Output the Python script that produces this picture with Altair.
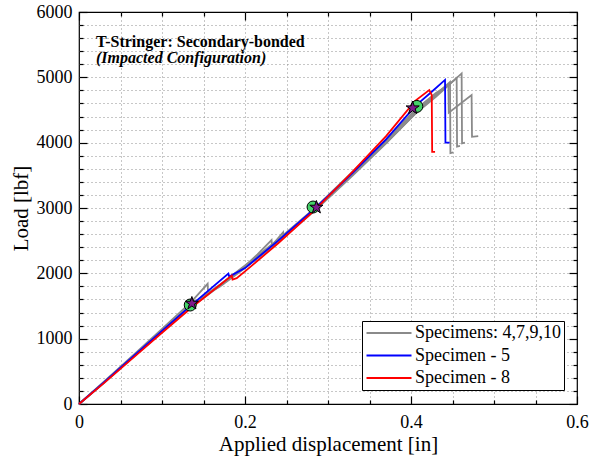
import altair as alt
import pandas as pd

FONT = "Liberation Serif"

GROUPS = ["Specimens: 4,7,9,10", "Specimen - 5", "Specimen - 8"]
COLORS = ["#8a8a8a", "#0000ff", "#ff0000"]

# --- Specimen curves (applied displacement [in], load [lbf]) ---
s4_x = [0, 0.03, 0.07, 0.10, 0.135, 0.17, 0.20, 0.24, 0.285, 0.33, 0.37, 0.405, 0.43, 0.447, 0.4475, 0.451]
s4_y = [0, 330, 780, 1110, 1500, 1820, 2100, 2500, 2990, 3540, 4030, 4470, 4740, 4930, 3840, 3850]

s7_x = [0, 0.03, 0.07, 0.10, 0.135, 0.155, 0.1555, 0.17, 0.20, 0.24, 0.285, 0.33, 0.37, 0.405, 0.43, 0.455, 0.4555, 0.459]
s7_y = [0, 340, 800, 1150, 1560, 1840, 1700, 1800, 2080, 2480, 2970, 3500, 3990, 4440, 4720, 4990, 3940, 3950]

s9_x = [0, 0.03, 0.07, 0.10, 0.135, 0.17, 0.20, 0.215, 0.232, 0.2325, 0.246, 0.2465, 0.285, 0.33, 0.37, 0.405, 0.43, 0.461, 0.4615, 0.465]
s9_y = [0, 320, 770, 1100, 1480, 1810, 2110, 2290, 2510, 2430, 2630, 2550, 2990, 3520, 4000, 4440, 4700, 5060, 3990, 4000]

s10_x = [0, 0.03, 0.07, 0.10, 0.135, 0.17, 0.20, 0.24, 0.285, 0.33, 0.37, 0.405, 0.43, 0.445, 0.4455, 0.473, 0.4735, 0.481]
s10_y = [0, 330, 790, 1130, 1520, 1830, 2120, 2520, 3010, 3560, 4050, 4500, 4760, 4880, 4460, 4730, 4090, 4100]

s5_x = [0, 0.03, 0.07, 0.10, 0.135, 0.18, 0.181, 0.20, 0.24, 0.285, 0.33, 0.37, 0.405, 0.425, 0.441, 0.4415, 0.4465]
s5_y = [0, 330, 780, 1120, 1510, 1995, 1950, 2080, 2500, 3000, 3540, 4050, 4560, 4780, 4960, 4000, 4000]

s8_x = [0, 0.03, 0.07, 0.10, 0.135, 0.184, 0.185, 0.19, 0.20, 0.24, 0.285, 0.33, 0.37, 0.405, 0.422, 0.425, 0.4255, 0.429]
s8_y = [0, 320, 760, 1090, 1470, 1965, 1905, 1925, 2030, 2460, 2980, 3560, 4100, 4640, 4806, 4730, 3860, 3860]

# --- Markers ---
circ_x = [0.134, 0.282, 0.407]
circ_y = [1515, 3015, 4555]
star_x = [0.136, 0.286, 0.402]
star_y = [1540, 3010, 4530]

# --- Axis ticks ---
X_TICKS = [0, 0.05, 0.1, 0.15, 0.2, 0.25, 0.3, 0.35, 0.4, 0.45, 0.5, 0.55, 0.6]
Y_TICKS = [0, 200, 400, 600, 800, 1000, 1200, 1400, 1600, 1800, 2000, 2200, 2400, 2600, 2800,
           3000, 3200, 3400, 3600, 3800, 4000, 4200, 4400, 4600, 4800, 5000, 5200, 5400, 5600, 5800, 6000]

TITLE1 = "T-Stringer: Secondary-bonded"
TITLE2 = "(Impacted Configuration)"

W, H = 498, 392

rows = []
for name, grp, xs, ys in [
    ("4", GROUPS[0], s4_x, s4_y),
    ("7", GROUPS[0], s7_x, s7_y),
    ("9", GROUPS[0], s9_x, s9_y),
    ("10", GROUPS[0], s10_x, s10_y),
    ("5", GROUPS[1], s5_x, s5_y),
    ("8", GROUPS[2], s8_x, s8_y),
]:
    for i, (a, b) in enumerate(zip(xs, ys)):
        rows.append({"spec": name, "group": grp, "x": a, "load": b, "i": i})
lines_df = pd.DataFrame(rows)
circ_df = pd.DataFrame({"x": circ_x, "load": circ_y})
star_df = pd.DataFrame({"x": star_x, "load": star_y})

xscale = alt.Scale(domain=[0, 0.6], nice=False, zero=False)
yscale = alt.Scale(domain=[0, 6000], nice=False, zero=False)

x_major = "abs(datum.value*5 - round(datum.value*5)) < 0.001"
y_major = "datum.value % 1000 == 0"

x_edge = "datum.value < 0.001 || datum.value > 0.599"
y_edge = "datum.value < 1 || datum.value > 5999"

label_style = dict(labelFont=FONT, labelFontSize=18, labelColor="black",
                   labelFlush=False, labelOverlap=False)
title_style = dict(titleFont=FONT, titleFontSize=21, titleFontWeight="normal", titleColor="black")
grid_style = dict(grid=True, gridDash=[1, 3], gridColor="#8f8f8f", gridWidth=1)

x_main_axis = alt.Axis(orient="bottom", values=X_TICKS, title="Applied displacement [in]",
                       labelExpr=f"{x_major} ? format(datum.value, '~g') : ''",
                       ticks=False, tickSize=0, domain=False, labelPadding=9, titlePadding=2,
                       gridOpacity={"condition": {"test": x_edge, "value": 0}, "value": 1},
                       **label_style, **title_style, **grid_style)
y_main_axis = alt.Axis(orient="left", values=Y_TICKS, title="Load [lbf]",
                       labelExpr=f"{y_major} ? format(datum.value, 'd') : ''",
                       ticks=False, tickSize=0, domain=False, labelPadding=7, titlePadding=5,
                       gridOpacity={"condition": {"test": y_edge, "value": 0}, "value": 1},
                       **label_style, **title_style, **grid_style)


def tick_axis(orient, offset, values, major):
    return alt.Axis(orient=orient, offset=offset, values=values, title=None, labels=False,
                    grid=False, domain=False, ticks=True, tickColor="black", tickWidth=1.2,
                    tickSize={"condition": {"test": major, "value": 8}, "value": 4})


lines = alt.Chart(lines_df).mark_line(strokeWidth=1.8).encode(
    x=alt.X("x:Q", scale=xscale, axis=x_main_axis),
    y=alt.Y("load:Q", scale=yscale, axis=y_main_axis),
    color=alt.Color("group:N", scale=alt.Scale(domain=GROUPS, range=COLORS),
                    legend=alt.Legend(title=None, orient="none", legendX=283, legendY=309,
                                      fillColor="white", strokeColor="black", padding=3,
                                      cornerRadius=0, symbolType="M-3,0H3", symbolSize=225,
                                      symbolStrokeWidth=2, symbolOffset=15, labelOffset=17,
                                      labelFont=FONT, labelFontSize=18, labelColor="black",
                                      rowPadding=4.5)),
    detail="spec:N",
    order="i:Q",
)

circles = alt.Chart(circ_df).mark_point(shape="circle", filled=True, size=144, fill="#45d36a",
                                        stroke="black", strokeWidth=1, opacity=1).encode(
    x=alt.X("x:Q", scale=xscale, axis=tick_axis("top", -H, X_TICKS, x_major)),
    y=alt.Y("load:Q", scale=yscale, axis=tick_axis("right", -W, Y_TICKS, y_major)),
)

STAR = ("M0,-1L0.2245,-0.309L0.9511,-0.309L0.3633,0.118L0.5878,0.809L0,0.382"
        "L-0.5878,0.809L-0.3633,0.118L-0.9511,-0.309L-0.2245,-0.309Z")
stars = alt.Chart(star_df).mark_point(shape=STAR, filled=True, size=190, fill="#7d1a8c",
                                      stroke="black", strokeWidth=1, opacity=1).encode(
    x=alt.X("x:Q", scale=xscale, axis=tick_axis("bottom", -H, X_TICKS, x_major)),
    y=alt.Y("load:Q", scale=yscale, axis=tick_axis("left", -W, Y_TICKS, y_major)),
)

t1 = alt.Chart(pd.DataFrame({"t": [TITLE1]})).mark_text(
    align="left", baseline="alphabetic", font=FONT, fontSize=16, fontWeight="bold", color="black"
).encode(x=alt.value(17), y=alt.value(35), text="t:N")
t2 = alt.Chart(pd.DataFrame({"t": [TITLE2]})).mark_text(
    align="left", baseline="alphabetic", font=FONT, fontSize=16, fontWeight="bold",
    fontStyle="italic", color="black"
).encode(x=alt.value(17), y=alt.value(51), text="t:N")

chart = alt.layer(lines, circles, stars, t1, t2).resolve_axis(
    x="independent", y="independent"
).properties(
    width=W, height=H,
    autosize=alt.AutoSizeParams(type="none"),
    padding={"left": 79, "top": 12, "right": 25, "bottom": 65},
    background="white",
).configure_view(stroke="black", strokeWidth=1.2)

chart.save("out.html", embed_options={"renderer": "svg", "actions": False})
